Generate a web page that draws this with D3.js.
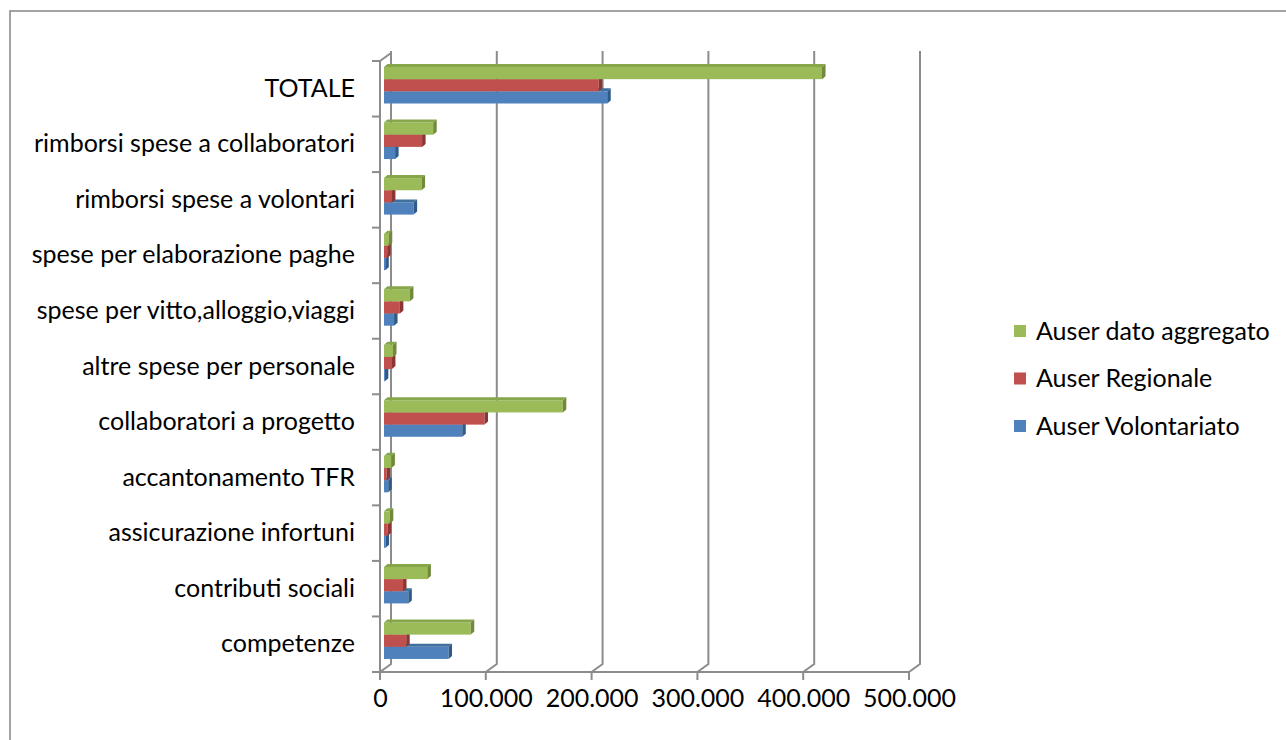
<!DOCTYPE html>
<html>
<head>
<meta charset="utf-8">
<script src="https://cdn.jsdelivr.net/npm/d3@7/dist/d3.min.js"></script>
<style>
  html, body { margin: 0; padding: 0; background: #fff; }
  svg { display: block; }
  text { font-family: Lato, "Open Sans", sans-serif; fill: #000; }
</style>
</head>
<body>
<svg id="chart" width="1286" height="740"></svg>
<script>
// ---- data (values in euro) ----
const categories = [
  "TOTALE",
  "rimborsi spese a collaboratori",
  "rimborsi spese a volontari",
  "spese per elaborazione paghe",
  "spese per vitto,alloggio,viaggi",
  "altre spese per personale",
  "collaboratori a progetto",
  "accantonamento TFR",
  "assicurazione infortuni",
  "contributi sociali",
  "competenze"
];
const seriesNames = ["Auser dato aggregato", "Auser Regionale", "Auser Volontariato"];
const aggregato   = [414000, 46500, 35500, 4500, 24500, 8500, 169000, 7000, 5500, 41000, 82000];
const regionale   = [203000, 36000,  7500, 3000, 15000, 7500,  95000, 2500, 3500, 18000, 21000];
const volontariato= [211000, 10500, 28000, 1200,  9500,  800,  74000, 4000, 1500, 23000, 61000];
const xTicks = [0, 100000, 200000, 300000, 400000, 500000];

const seriesValues = [aggregato, regionale, volontariato];
const colors = {
  "Auser dato aggregato": { front: "#9BBB59", top: "#86A64A", side: "#71893A" },
  "Auser Regionale":      { front: "#C0504D", top: "#A8423F", side: "#8C3532" },
  "Auser Volontariato":   { front: "#4F81BD", top: "#41709F", side: "#2F5A8A" }
};

const svg = d3.select("#chart");
const grid = "#8c8c8c";

// outer border
svg.append("rect").attr("x", 10).attr("y", 11).attr("width", 1290).attr("height", 740)
  .attr("fill", "none").attr("stroke", grid).attr("stroke-width", 1.6);

// depth offsets
const dx = 11, dy = 8;       // wall depth
const bdx = 3.5, bdy = 3;    // bar depth

const fmt = d3.formatLocale({decimal: ",", thousands: ".", grouping: [3], currency: ["€", ""]}).format(",d");

// scales
const xFront = d3.scaleLinear().domain([0, 500000]).range([380, 909]);
const xBar = d3.scaleLinear().domain([0, 500000]).range([384, 913]);
const y0 = d3.scaleBand().domain(categories).range([61, 672]);
const y1 = d3.scaleBand().domain(seriesNames).range([6, 6 + 36.5]);

const yTop = 61, yBot = 672;

// back wall gridlines with slant to floor front
const gl = svg.append("g");
xTicks.forEach(t => {
  const xf = xFront(t), xb = xf + dx;
  gl.append("path")
    .attr("d", `M${xb},${yTop - dy - 2} L${xb},${yBot - dy} L${xf},${yBot}`)
    .attr("fill", "none").attr("stroke", grid).attr("stroke-width", 2);
});
// top-left slant of vertical axis
gl.append("path")
  .attr("d", `M${xFront(0)},${yTop} L${xFront(0) + dx},${yTop - dy}`)
  .attr("fill", "none").attr("stroke", grid).attr("stroke-width", 2);

// front vertical axis
gl.append("line").attr("x1", xFront(0)).attr("x2", xFront(0)).attr("y1", yTop).attr("y2", yBot)
  .attr("stroke", grid).attr("stroke-width", 2);
// category ticks (boundaries)
const bounds = categories.map(c => y0(c)).concat([yBot]);
bounds.forEach(b => {
  gl.append("line").attr("x1", xFront(0) - 8).attr("x2", xFront(0)).attr("y1", b).attr("y2", b)
    .attr("stroke", grid).attr("stroke-width", 2);
});
// front floor axis
gl.append("line").attr("x1", xFront(0) - 8).attr("x2", xFront(500000)).attr("y1", yBot).attr("y2", yBot)
  .attr("stroke", grid).attr("stroke-width", 2);
xTicks.forEach(t => {
  gl.append("line").attr("x1", xFront(t)).attr("x2", xFront(t)).attr("y1", yBot).attr("y2", yBot + 8)
    .attr("stroke", grid).attr("stroke-width", 2);
});

// x tick labels via d3 axis
const xAxis = d3.axisBottom(xFront).tickValues(xTicks).tickFormat(fmt).tickSize(0).tickPadding(0);
const xg = svg.append("g").attr("transform", `translate(0,${yBot + 26})`).call(xAxis);
xg.select(".domain").remove();
xg.selectAll("text").attr("font-size", 25).attr("dy", "0.35em").style("font-family", "Lato");

// y category labels via d3 axis
const yAxis = d3.axisLeft(y0).tickSize(0).tickPadding(0);
const yg = svg.append("g").attr("transform", `translate(355,0)`).call(yAxis);
yg.select(".domain").remove();
yg.selectAll("text").attr("font-size", 25).style("font-family", "Lato");

// bars: draw bottom series first so upper bars cover top faces
const bars = svg.append("g");
const drawOrder = [2, 1, 0];
categories.forEach((cat, ci) => {
  drawOrder.forEach(si => {
    const name = seriesNames[si];
    const v = seriesValues[si][ci];
    const c = colors[name];
    const x0 = xBar(0), x1 = xBar(v);
    const yt = y0(cat) + y1(name), yb = yt + y1.bandwidth();
    const g = bars.append("g");
    g.append("rect").attr("x", x0).attr("y", yt).attr("width", Math.max(0, x1 - x0)).attr("height", yb - yt)
      .attr("fill", c.front);
    g.append("path")
      .attr("d", `M${x0},${yt} L${x1},${yt} L${x1 + bdx},${yt - bdy} L${x0 + bdx},${yt - bdy} Z`)
      .attr("fill", c.top);
    g.append("path")
      .attr("d", `M${x1},${yt} L${x1 + bdx},${yt - bdy} L${x1 + bdx},${yb - bdy} L${x1},${yb} Z`)
      .attr("fill", c.side);
  });
});

// legend
const lg = svg.append("g");
const legendY = d3.scalePoint().domain(seriesNames).range([331, 426]);
seriesNames.forEach(n => {
  lg.append("rect").attr("x", 1014).attr("y", legendY(n) - 6).attr("width", 12).attr("height", 12)
    .attr("fill", colors[n].front);
  lg.append("text").attr("x", 1036).attr("y", legendY(n)).attr("dy", "0.35em")
    .attr("font-size", 25).text(n);
});
</script>
</body>
</html>
